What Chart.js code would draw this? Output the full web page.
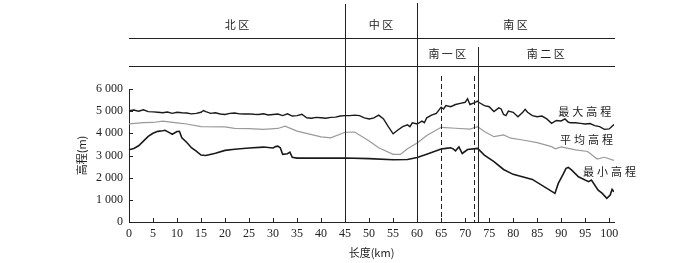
<!DOCTYPE html>
<html>
<head>
<meta charset="utf-8">
<script src="https://cdn.jsdelivr.net/npm/chart.js@4.4.0/dist/chart.umd.min.js"></script>
<style>
  html, body { margin: 0; padding: 0; background: #fff; }
  #wrap { width: 700px; height: 263px; }
</style>
</head>
<body>
<div id="wrap"><canvas id="c" width="700" height="263"></canvas></div>
<script>
// elevation profiles along the line (km -> m)
const maxKm = [0,1,2,3,4,5,6,7,8,9, 10,11,12,13,14,15,15.5,16,17,18, 19,20,21,22,23,24,25,26,27,28,
  29,30,31,32,33,34,35,36,37,38, 39,40,41,42,43,44,45,46,47,48, 49,50,51,52,53,54,55,56,57,58,
  58.5,59,60,61,61.5,62,63,64,65,65.5, 66,67,68,69,70,70.5,71,72,72.5,73, 74,75,76,77,77.5,78,78.5,79,80,81,
  82,82.5,83,84,85,86,87,88,89,90, 90.8,91.5,92,93,94,95,96,97,98,99, 100,101]
const maxElev = [5020,5050,5000,5060,4980,4970,4950,4930,4960,4900, 4950,4930,4920,4880,4900,4950,5030,4980,4900,4930,
  4870,4850,4900,4920,4880,4870,4880,4860,4850,4880, 4830,4850,4870,4800,4880,4780,4800,4860,4700,4680,
  4720,4700,4680,4720,4730,4780,4800,4800,4820,4800, 4700,4650,4700,4820,4650,4300,3980,4150,4300,4380,
  4300,4470,4420,4550,4480,4700,4820,4900,5180,5100, 5250,5200,5300,5350,5400,5560,5300,5380,5450,5380,
  5250,5200,4980,5150,5100,4850,4800,5000,4950,4750, 4950,5080,4950,4800,4750,4780,4650,4450,4580,4560,
  4650,4500,4480,4480,4450,4420,4440,4350,4300,4180, 4200,4400]

const meanKm = [0,3,5,7,10,12,15,20,22,25, 28,31,32.5,35,40,42,45,47,50,52, 55,56.5,58,60,62,65,68,71,72.6,74,
  76,78,79.5,82,85,88,88.8,90,93,95.5, 97.5,99,101]
const meanElev = [4430,4480,4490,4550,4470,4420,4300,4290,4220,4210, 4180,4220,4320,4100,3840,3800,4050,4060,3650,3350,
  3050,3050,3300,3560,3900,4270,4230,4190,4300,4080, 3850,3930,3780,3700,3580,3400,3300,3390,3250,3180,
  2840,2920,2780]

const minKm = [0,1,2,3,4,5,6,7,7.5,8.5, 9,10,10.5,11,12,13,14,15,16,18, 20,22,25,28,30,30.5,31,31.5,32,33,
  33.5,34,35,40,45,50,55,58,60,62, 65,66,67,67.5,68,68.7,69.4,70.5,72.6,74, 76,78,80,84,88.7,89.4,90.5,91,91.5,92.2,
  93.6,95.7,96.3,97.7,98.5,99.5,100.2,100.6,101]
const minElev = [3260,3320,3440,3650,3860,4000,4090,4120,4140,4020, 3960,4080,4090,3800,3600,3350,3200,3020,3000,3100,
  3230,3280,3340,3380,3340,3400,3420,3350,3050,3080, 3150,2920,2880,2880,2890,2860,2810,2820,2910,3060,
  3290,3320,3350,3300,3210,3390,3090,3270,3320,3020, 2720,2370,2150,1920,1290,1740,2190,2420,2460,2340,
  2040,1820,1890,1440,1300,1070,1220,1470,1370]

// axis ticks
const xTicks = [0,5,10,15,20,25,30,35,40,45,50,55,60,65,70,75,80,85,90,95,100]
const yTicks = [0,1000,2000,3000,4000,5000,6000]

// zones
const zoneNames = ['北区', '中区', '南区']
const zoneFrom = [0, 45, 60]
const zoneTo = [45, 60, 101]
const subZoneNames = ['南一区', '南二区']
const subZoneFrom = [60, 72.6]
const subZoneTo = [72.6, 101]
const dashedKm = [65, 71.8]

// series labels
const seriesLabels = ['最大高程', '平均高程', '最小高程']
const labelKm = [95.2, 95.6, 100.4]
const labelElev = [4950, 3690, 2250]

const toPts = (xs, ys) => xs.map((x, i) => ({x: x, y: ys[i]}))
const fmt = v => v === 0 ? '0' : String(v).replace(/\B(?=(\d{3})+(?!\d))/g, ' ')

const overlay = {
  id: 'overlay',
  afterDraw(chart) {
    const ctx = chart.ctx
    const xs = chart.scales.x, ys = chart.scales.y
    const px = v => xs.getPixelForValue(v)
    ctx.save()
    ctx.strokeStyle = '#222'
    ctx.lineWidth = 1
    // header rows
    ;[38, 66].forEach(y => {
      ctx.beginPath(); ctx.moveTo(xs.left, y + 0.5); ctx.lineTo(xs.right + 1, y + 0.5); ctx.stroke()
    })
    // zone boundaries
    const bounds = [[45, 4], [60, 3], [72.6, 47]]
    bounds.forEach(([k, top]) => {
      const x = Math.round(px(k)) + 0.5
      ctx.beginPath(); ctx.moveTo(x, top); ctx.lineTo(x, ys.bottom); ctx.stroke()
    })
    ctx.setLineDash([5, 3])
    dashedKm.forEach(k => {
      const x = Math.round(px(k)) + 0.5
      ctx.beginPath(); ctx.moveTo(x, 76); ctx.lineTo(x, ys.bottom); ctx.stroke()
    })
    ctx.setLineDash([])
    // inward ticks
    xTicks.forEach(v => {
      const x = Math.round(px(v)) + 0.5
      ctx.beginPath(); ctx.moveTo(x, ys.bottom); ctx.lineTo(x, ys.bottom - 4); ctx.stroke()
    })
    yTicks.forEach(v => {
      const y = Math.round(ys.getPixelForValue(v)) + 0.5
      ctx.beginPath(); ctx.moveTo(xs.left, y); ctx.lineTo(xs.left + 4, y); ctx.stroke()
    })
    // texts
    ctx.fillStyle = '#222'
    ctx.textAlign = 'center'
    ctx.textBaseline = 'middle'
    ctx.font = '11px "Noto Sans CJK SC"'
    zoneNames.forEach((n, i) => ctx.fillText(n.split('').join(' '), px((zoneFrom[i] + zoneTo[i]) / 2), 25))
    subZoneNames.forEach((n, i) => ctx.fillText(n.split('').join(' '), px((subZoneFrom[i] + subZoneTo[i]) / 2), 54))
    ctx.letterSpacing = '3px'
    seriesLabels.forEach((n, i) => ctx.fillText(n, px(labelKm[i]), ys.getPixelForValue(labelElev[i])))
    ctx.restore()
  }
}

new Chart(document.getElementById('c'), {
  type: 'line',
  data: {
    datasets: [
      {label: '最大高程', data: toPts(maxKm, maxElev), borderColor: '#1a1a1a', borderWidth: 1.4},
      {label: '平均高程', data: toPts(meanKm, meanElev), borderColor: '#9a9a9a', borderWidth: 1.2},
      {label: '最小高程', data: toPts(minKm, minElev), borderColor: '#1a1a1a', borderWidth: 1.6}
    ]
  },
  options: {
    responsive: false,
    animation: false,
    parsing: false,
    elements: {point: {radius: 0}, line: {tension: 0, fill: false}},
    layout: {padding: {top: 89, left: 70, right: 86, bottom: 0}},
    plugins: {legend: {display: false}, tooltip: {enabled: false}},
    scales: {
      x: {
        type: 'linear', min: 0, max: 101,
        grid: {display: false, drawTicks: false},
        border: {display: true, color: '#222', width: 1},
        afterBuildTicks: s => { s.ticks = xTicks.map(v => ({value: v})) },
        afterFit: s => { s.height = 41 },
        ticks: {autoSkip: false, maxRotation: 0, padding: 5, color: '#222',
          font: {family: '"Liberation Serif"', size: 12}},
        title: {display: true, text: '长度(km)', color: '#222', padding: {top: 0, bottom: 4},
          font: {family: '"Noto Sans CJK SC"', size: 11}}
      },
      y: {
        min: 0, max: 6000,
        grid: {display: false, drawTicks: false},
        border: {display: true, color: '#222', width: 1},
        afterBuildTicks: s => { s.ticks = yTicks.map(v => ({value: v})) },
        afterFit: s => { s.width = 59 },
        ticks: {padding: 6, color: '#222', callback: v => fmt(v),
          font: {family: '"Liberation Serif"', size: 12}},
        title: {display: true, text: '高程(m)', color: '#222', padding: {top: 5, bottom: 0},
          font: {family: '"Noto Sans CJK SC"', size: 11}}
      }
    }
  },
  plugins: [overlay]
})
</script>
</body>
</html>
